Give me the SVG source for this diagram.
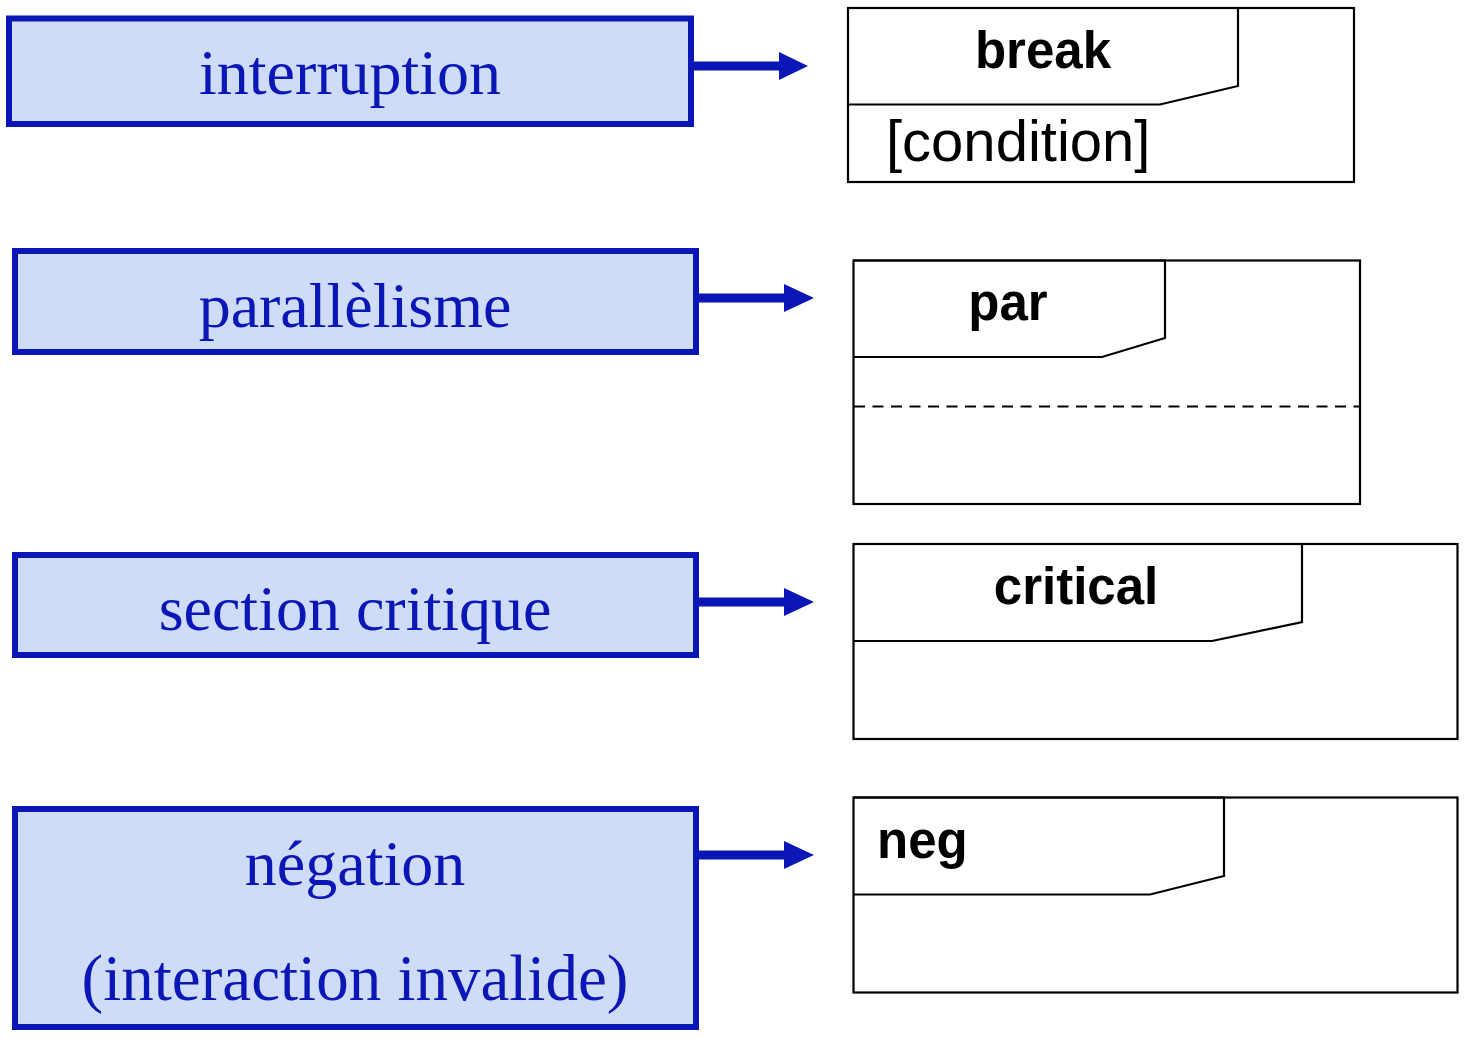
<svg xmlns="http://www.w3.org/2000/svg" width="1468" height="1042" viewBox="0 0 1468 1042">
<style>
.box{fill:#cedcf8;stroke:#0a16b6;stroke-width:6}
.lbl{font-family:"Liberation Serif","Times New Roman",serif;font-size:64px;fill:#0a16b6;text-anchor:middle}
.wide{font-size:65px}
.frame{fill:#ffffff;stroke:#000;stroke-width:2.2}
.tab{fill:none;stroke:#000;stroke-width:2.2}
.kw{font-family:"Liberation Sans",Arial,sans-serif;font-weight:bold;font-size:51px;fill:#000}
.cond{font-family:"Liberation Sans",Arial,sans-serif;font-size:58px;fill:#000}
.conn{stroke:#0a16b6;stroke-width:9;fill:none}
.head{fill:#0a16b6}
</style>
<rect width="1468" height="1042" fill="#ffffff"/>
<g id="interruption">
<rect class="box" x="9" y="18.5" width="682" height="105.5"/>
<text class="lbl" x="350" y="94">interruption</text>
</g>
<g id="parallelisme">
<rect class="box" x="15" y="251" width="681" height="101"/>
<text class="lbl" x="355" y="327">parallèlisme</text>
</g>
<g id="section-critique">
<rect class="box" x="15" y="555" width="681" height="100"/>
<text class="lbl" x="355" y="630">section critique</text>
</g>
<g id="negation">
<rect class="box" x="15" y="809" width="681" height="218"/>
<text class="lbl" x="355" y="885">négation</text>
<text class="lbl wide" x="355" y="1000">(interaction invalide)</text>
</g>
<g id="break-frame">
<rect class="frame" x="848" y="8" width="506" height="174"/>
<path class="tab" d="M848,8 H1238 V86 L1160,104.5 H848"/>
<text class="kw" x="1043" y="68" text-anchor="middle">break</text>
<text class="cond" x="886" y="161">[condition]</text>
</g>
<g id="par-frame">
<rect class="frame" x="853.5" y="260.5" width="506.5" height="243.5"/>
<path class="tab" d="M853.5,260.5 H1165 V338 L1102,357 H853.5"/>
<line x1="854" y1="406.5" x2="1359" y2="406.5" stroke="#000" stroke-width="2" stroke-dasharray="11,7.5"/>
<text class="kw" x="1008" y="320" text-anchor="middle">par</text>
</g>
<g id="critical-frame">
<rect class="frame" x="853.5" y="544" width="604" height="195"/>
<path class="tab" d="M853.5,544 H1302 V622 L1212,641 H853.5"/>
<text class="kw" x="1076" y="604" text-anchor="middle">critical</text>
</g>
<g id="neg-frame">
<rect class="frame" x="853.5" y="797.5" width="604" height="195"/>
<path class="tab" d="M853.5,797.5 H1224 V876 L1150,894.5 H853.5"/>
<text class="kw" x="877" y="858">neg</text>
</g>
<g id="connectors">
<line class="conn" x1="694" y1="66" x2="782" y2="66"/>
<polygon class="head" points="779,52 808,66 779,80"/>
<line class="conn" x1="699" y1="298" x2="787" y2="298"/>
<polygon class="head" points="784,284 814,298 784,312"/>
<line class="conn" x1="699" y1="602" x2="787" y2="602"/>
<polygon class="head" points="784,588 814,602 784,616"/>
<line class="conn" x1="699" y1="855" x2="787" y2="855"/>
<polygon class="head" points="784,841 814,855 784,869"/>
</g>
</svg>
